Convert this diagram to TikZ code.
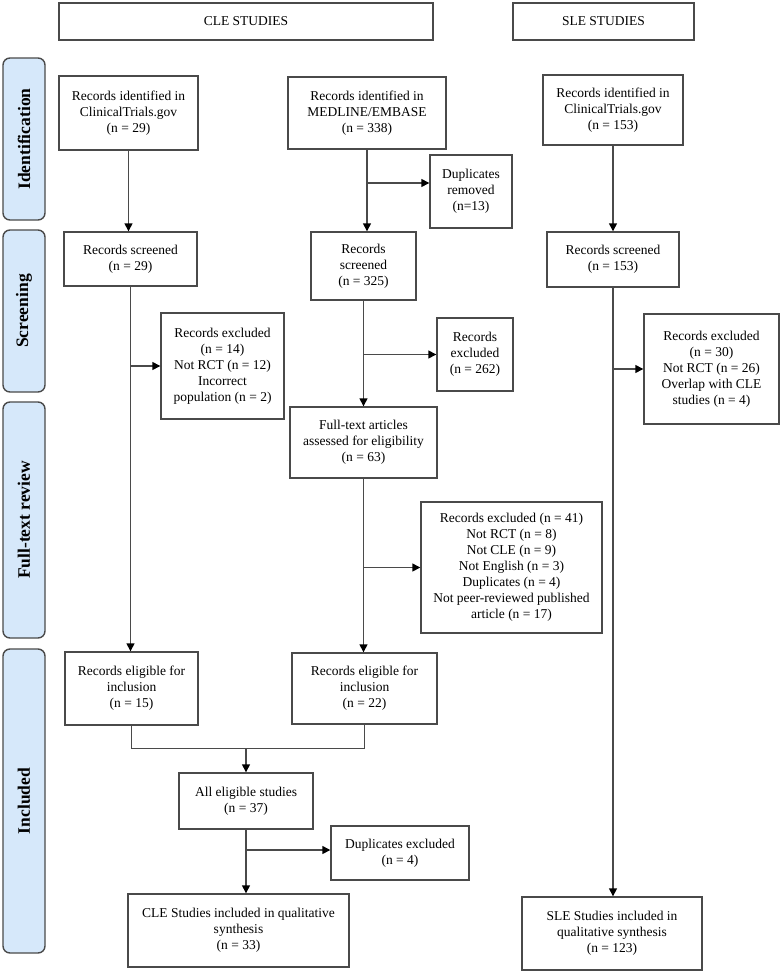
\documentclass[tikz,border=0pt]{standalone}
\usepackage{fontspec}
\setmainfont{Liberation Serif}
\usetikzlibrary{arrows.meta}
\definecolor{phasefill}{HTML}{D6E8FA}
\definecolor{linegray}{HTML}{4A4A4A}
\tikzset{
box/.style={
	  draw=linegray, line width=1.4pt, fill=white, align=center,
	    inner sep=2pt, font=\fontsize{13.5}{16}\selectfont},
phase/.style={
	  draw=linegray, line width=1.4pt, fill=phasefill, rounded corners=7pt,
	    rotate=90, minimum height=42, font=\fontsize{17.5}{20}\selectfont\bfseries},
flow/.style={draw=linegray, line width=1.4pt},
arrow/.style={flow, -{Triangle[length=8pt,width=8pt,color=black]}}
}

\begin{document}
\begin{tikzpicture}[x=1pt, y=-1pt]
	\useasboundingbox (0,0) rectangle (781,972);
	% headers and phases
	\node[box, minimum width=374, minimum height=37] (clehead) at (246,21.5) {CLE STUDIES};
	\node[box, minimum width=181, minimum height=37] (slehead) at (603.5,21.5) {SLE STUDIES};
	\node[phase, minimum width=162] (ident) at (24,139) {Identification};
	\node[phase, minimum width=162] (screen) at (24,311) {Screening};
	\node[phase, minimum width=236] (fulltext) at (24,520) {Full-text review};
	\node[phase, minimum width=304] (incl) at (24,801) {Included};
	% identification
	\node[box, minimum width=139, minimum height=74] (ctgovA) at (128.5,113)
		{Records identified in\\ClinicalTrials.gov\\(n = 29)};
	\node[box, minimum width=158, minimum height=72] (medline) at (367,113)
		{Records identified in\\MEDLINE/EMBASE\\(n = 338)};
	\node[box, minimum width=140, minimum height=70] (ctgovC) at (613,110)
		{Records identified in\\ClinicalTrials.gov\\(n = 153)};
	\node[box, minimum width=82, minimum height=73] (duprem) at (471,191.5)
		{Duplicates\\removed\\(n=13)};
	% screening
	\node[box, minimum width=133, minimum height=54] (scrA) at (130.5,259)
		{Records screened\\(n = 29)};
	\node[box, minimum width=105, minimum height=68] (scrB) at (363.5,266)
		{Records\\screened\\(n = 325)};
	\node[box, minimum width=132, minimum height=55] (scrC) at (613,259.5)
		{Records screened\\(n = 153)};
	\node[box, minimum width=123, minimum height=106] (exclA) at (222.5,366)
		{Records excluded\\(n = 14)\\Not RCT (n = 12)\\Incorrect\\population (n = 2)};
	\node[box, minimum width=76, minimum height=73] (exclB) at (475,354.5)
		{Records\\excluded\\(n = 262)};
	\node[box, minimum width=135, minimum height=110] (exclC) at (711.5,369)
		{Records excluded\\(n = 30)\\Not RCT (n = 26)\\Overlap with CLE\\studies (n = 4)};
	% full-text review
	\node[box, minimum width=147, minimum height=71] (fulltxt) at (363.5,442.5)
		{Full-text articles\\assessed for eligibility\\(n = 63)};
	\node[box, minimum width=181, minimum height=131] (exclFT) at (511.5,567.5)
		{Records excluded (n = 41)\\Not RCT (n = 8)\\Not CLE (n = 9)\\Not English (n = 3)\\Duplicates (n = 4)\\Not peer-reviewed published\\article (n = 17)};
	% included
	\node[box, minimum width=133, minimum height=73] (eligA) at (131.5,688.5)
		{Records eligible for\\inclusion\\(n = 15)};
	\node[box, minimum width=145, minimum height=71] (eligB) at (364.5,688.5)
		{Records eligible for\\inclusion\\(n = 22)};
	\node[box, minimum width=134, minimum height=56] (alleli) at (246,801)
		{All eligible studies\\(n = 37)};
	\node[box, minimum width=138, minimum height=54] (dupexc) at (400,853)
		{Duplicates excluded\\(n = 4)};
	\node[box, minimum width=221, minimum height=73] (cleinc) at (238.5,930.5)
		{CLE Studies included in qualitative\\synthesis\\(n = 33)};
	\node[box, minimum width=180, minimum height=73] (sleinc) at (612,933.5)
		{SLE Studies included in\\qualitative synthesis\\(n = 123)};
	% connectors
	\draw[arrow] (ctgovA.south) -- (ctgovA.south |- scrA.north);
	\draw[arrow] (medline.south) -- (medline.south |- scrB.north);
	\draw[arrow] (medline.south |- 0,183) -- (duprem.west |- 0,183);
	\draw[arrow] (ctgovC.south) -- (ctgovC.south |- scrC.north);
	\draw[arrow] (scrA.south) -- (scrA.south |- eligA.north);
	\draw[arrow] (scrA.south |- exclA.west) -- (exclA.west);
	\draw[arrow] (scrB.south) -- (scrB.south |- fulltxt.north);
	\draw[arrow] (scrB.south |- exclB.west) -- (exclB.west);
	\draw[arrow] (fulltxt.south) -- (fulltxt.south |- eligB.north);
	\draw[arrow] (fulltxt.south |- exclFT.west) -- (exclFT.west);
	\draw[arrow] (scrC.south) -- (scrC.south |- sleinc.north);
	\draw[arrow] (scrC.south |- exclC.west) -- (exclC.west);
	\draw[flow] (eligA.south) -- ++(0,23) -| (eligB.south);
	\draw[arrow] (alleli.north |- 0,748) -- (alleli.north);
	\draw[arrow] (alleli.south) -- (alleli.south |- cleinc.north);
	\draw[arrow] (alleli.south |- 0,850) -- (dupexc.west |- 0,850);
\end{tikzpicture}
\end{document}
